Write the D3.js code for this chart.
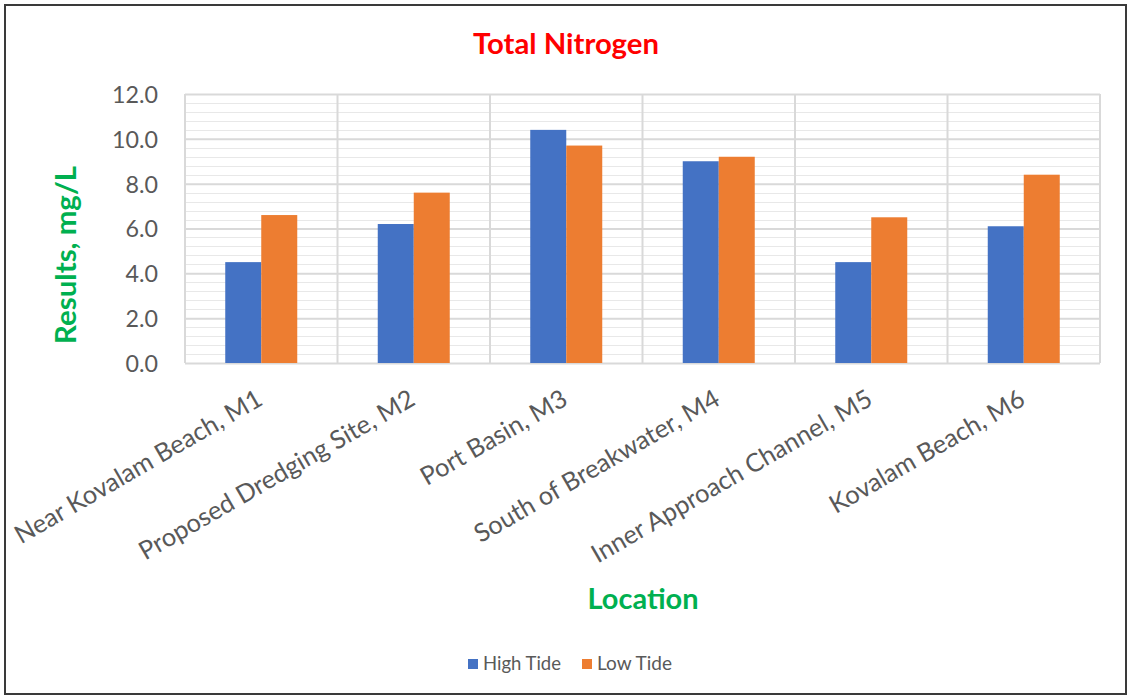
<!DOCTYPE html>
<html>
<head>
<meta charset="utf-8">
<script src="https://cdn.jsdelivr.net/npm/d3@7"></script>
<style>
  html, body { margin: 0; padding: 0; background: #fff; }
  svg { display: block; }
  text { font-family: Lato, "Open Sans", sans-serif; }
</style>
</head>
<body>
<svg id="chart" width="1134" height="698"></svg>
<script>
const categories = ["Near Kovalam Beach, M1", "Proposed Dredging Site, M2", "Port Basin, M3",
                    "South of Breakwater, M4", "Inner Approach Channel, M5", "Kovalam Beach, M6"];
const seriesNames = ["High Tide", "Low Tide"];
const highTide = [4.5, 6.2, 10.4, 9.0, 4.5, 6.1];
const lowTide  = [6.6, 7.6, 9.7, 9.2, 6.5, 8.4];
const yTicks = [0, 2, 4, 6, 8, 10, 12];
const yMinorStep = 0.4;
const colors = ["#4472C4", "#ED7D31"];

const svg = d3.select("#chart");
const W = 1134, H = 698;
const plot = { left: 185, right: 1100, top: 94, bottom: 363 };

function fit(sel, target) {
  sel.each(function() {
    const t = d3.select(this);
    const fs = parseFloat(t.attr("font-size"));
    const len = this.getComputedTextLength();
    if (len > 0) t.attr("font-size", (fs * target / len).toFixed(2));
  });
}

svg.append("rect").attr("x", 0).attr("y", 0).attr("width", W).attr("height", H).attr("fill", "#fff");
svg.append("rect").attr("x", 5).attr("y", 5).attr("width", 1121).attr("height", 689)
  .attr("fill", "none").attr("stroke", "#3a3a3a").attr("stroke-width", 2);

const x0 = d3.scaleBand().domain(categories).range([plot.left, plot.right]).paddingInner(0).paddingOuter(0);
const bw = 36;
const x1 = d3.scaleBand().domain(seriesNames).range([0, bw * 2]);
const y = d3.scaleLinear().domain([0, 12]).range([plot.bottom, plot.top]);

// minor gridlines
const minor = d3.range(0, 12 + 1e-9, yMinorStep).filter(v => Math.abs(v / 2 - Math.round(v / 2)) > 1e-6);
svg.append("g").selectAll("line").data(minor).join("line")
  .attr("x1", plot.left).attr("x2", plot.right)
  .attr("y1", d => Math.round(y(d)) + 0.5).attr("y2", d => Math.round(y(d)) + 0.5)
  .attr("stroke", "#E8E8E8").attr("stroke-width", 1);

// major gridlines via axis
const yAxis = d3.axisLeft(y).tickValues(yTicks).tickSize(-(plot.right - plot.left)).tickFormat(d3.format(".1f")).tickPadding(27);
const gy = svg.append("g").attr("transform", `translate(${plot.left},0)`).call(yAxis);
gy.select(".domain").remove();
gy.selectAll(".tick line").attr("stroke", "#D9D9D9").attr("stroke-width", 2);
gy.selectAll(".tick text").attr("fill", "#595959").attr("font-size", 20).attr("font-family", "Lato")
  .attr("dy", "0.36em");
fit(gy.selectAll(".tick text").filter(d => d >= 10), 46);
const tickFs = gy.selectAll(".tick text").filter(d => d === 10).attr("font-size");
gy.selectAll(".tick text").attr("font-size", tickFs);

// vertical category gridlines
const bounds = categories.map(c => x0(c)).concat([plot.right]);
svg.append("g").selectAll("line").data(bounds).join("line")
  .attr("x1", d => d).attr("x2", d => d).attr("y1", plot.top).attr("y2", plot.bottom)
  .attr("stroke", "#D9D9D9").attr("stroke-width", 2);

// bars
const rows = categories.map((c, i) => ({ c, vals: [highTide[i], lowTide[i]] }));
const gBars = svg.append("g");
rows.forEach(r => {
  const cx = x0(r.c) + x0.bandwidth() / 2;
  gBars.selectAll(null).data(r.vals).join("rect")
    .attr("x", (d, j) => cx - bw + x1(seriesNames[j]))
    .attr("y", d => y(d))
    .attr("width", x1.bandwidth())
    .attr("height", d => y(0) - y(d))
    .attr("fill", (d, j) => colors[j]);
});

// category labels
const gx = svg.append("g");
gx.selectAll("text").data(categories).join("text")
  .attr("transform", d => `translate(${x0(d) + x0.bandwidth() / 2 + 3},404) rotate(-30)`)
  .attr("text-anchor", "end")
  .attr("fill", "#595959").attr("font-size", 22)
  .text(d => d);
fit(gx.selectAll("text").filter((d, i) => i === 0), 281);
const catFs = gx.select("text").attr("font-size");
gx.selectAll("text").attr("font-size", catFs);

// title
const title = svg.append("text").attr("x", 566).attr("y", 54).attr("text-anchor", "middle")
  .attr("fill", "#FF0000").attr("font-weight", "bold").attr("font-size", 22).text("Total Nitrogen");
fit(title, 186);

// axis titles
const yt = svg.append("text").attr("transform", "translate(76,255) rotate(-90)").attr("text-anchor", "middle")
  .attr("fill", "#00B050").attr("font-weight", "bold").attr("font-size", 24).text("Results, mg/L");
fit(yt, 178);
const xt = svg.append("text").attr("x", 643).attr("y", 609).attr("text-anchor", "middle")
  .attr("fill", "#00B050").attr("font-weight", "bold").attr("font-size", 26).text("Location");
fit(xt, 111);

// legend
const legend = svg.append("g");
const legX = [468, 582];
seriesNames.forEach((s, i) => {
  legend.append("rect").attr("x", legX[i]).attr("y", 659).attr("width", 10).attr("height", 10).attr("fill", colors[i]);
  const t = legend.append("text").attr("x", legX[i] + 15).attr("y", 670).attr("fill", "#595959")
    .attr("font-size", 16).text(s);
  fit(t, i === 0 ? 78 : 75);
});
</script>
</body>
</html>
